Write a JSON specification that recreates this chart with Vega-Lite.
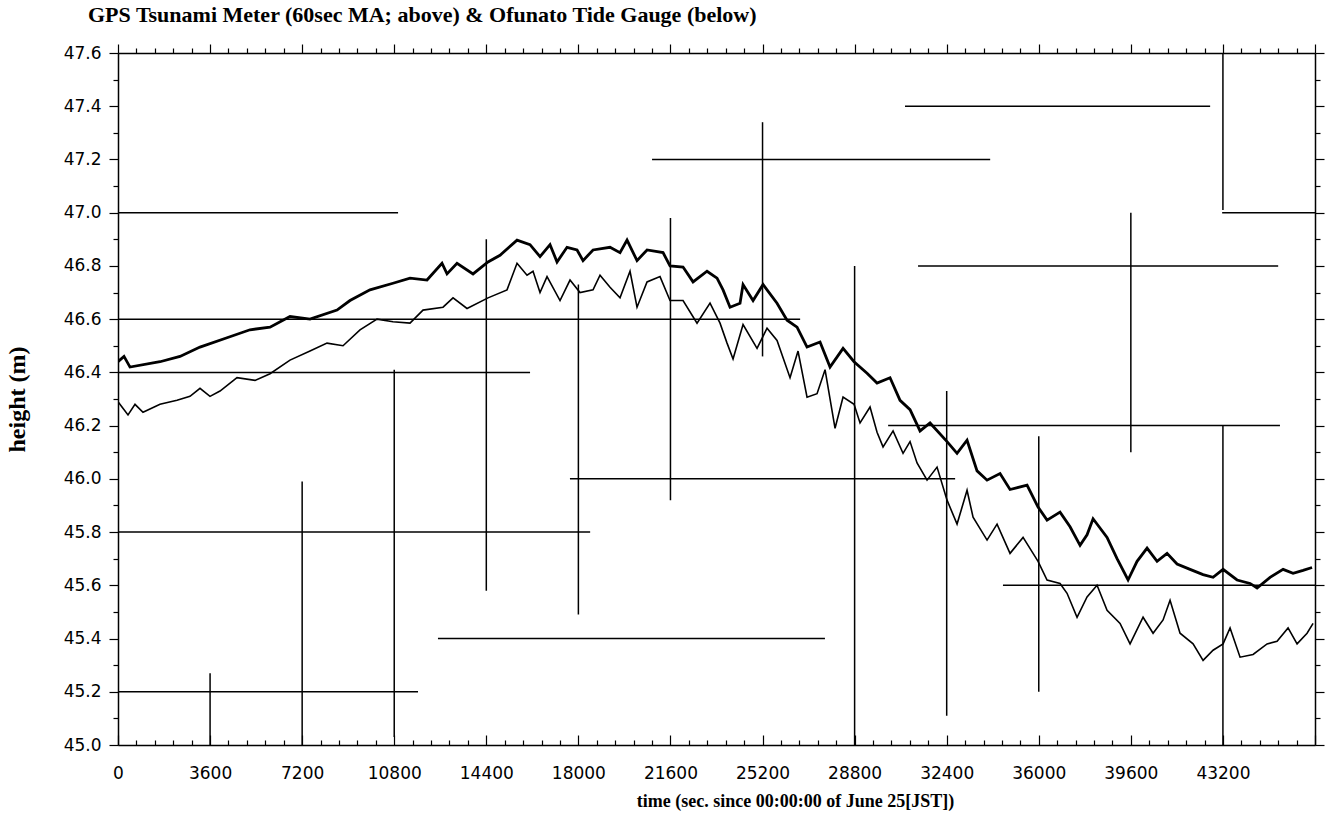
{
  "$schema": "https://vega.github.io/schema/vega-lite/v6.json",
  "width": 1197,
  "height": 692,
  "autosize": {"type": "none"},
  "padding": {"left": 118, "top": 53, "right": 12, "bottom": 84},
  "background": "white",
  "title": {"text": "GPS Tsunami Meter (60sec MA; above) & Ofunato Tide Gauge (below)", "anchor": "start", "frame": "group", "dx": -30, "offset": 16, "font": "Liberation Serif", "fontSize": 22, "fontWeight": "bold", "color": "black"},
  "config": {
    "view": {"stroke": null},
    "axis": {"domainColor": "black", "tickColor": "black", "labelColor": "black", "titleColor": "black", "grid": false, "domainWidth": 1.5, "tickWidth": 1.2, "labelFont": "DejaVu Sans", "labelFontSize": 17, "titleFont": "Liberation Serif", "titleFontWeight": "bold", "titleFontSize": 18, "labelOverlap": false, "labelFlush": false}
  },
  "datasets": {
    "gps": [
      {"t":0,"h":46.44},{"t":235,"h":46.46},{"t":469,"h":46.42},{"t":1642,"h":46.44},{"t":2424,"h":46.46},{"t":3206,"h":46.495},{"t":4262,"h":46.53},{"t":5161,"h":46.56},{"t":5944,"h":46.57},{"t":6725,"h":46.61},{"t":7507,"h":46.6},{"t":8563,"h":46.634},{"t":9071,"h":46.67},{"t":9853,"h":46.71},{"t":10752,"h":46.735},{"t":11417,"h":46.754},{"t":12082,"h":46.747},{"t":12668,"h":46.81},{"t":12864,"h":46.77},{"t":13255,"h":46.81},{"t":13881,"h":46.77},{"t":14467,"h":46.815},{"t":14936,"h":46.84},{"t":15601,"h":46.897},{"t":16109,"h":46.88},{"t":16500,"h":46.835},{"t":16891,"h":46.88},{"t":17165,"h":46.815},{"t":17556,"h":46.87},{"t":17947,"h":46.86},{"t":18182,"h":46.82},{"t":18573,"h":46.86},{"t":19237,"h":46.87},{"t":19628,"h":46.85},{"t":19902,"h":46.897},{"t":20293,"h":46.82},{"t":20684,"h":46.86},{"t":21310,"h":46.85},{"t":21583,"h":46.8},{"t":22092,"h":46.796},{"t":22483,"h":46.74},{"t":23030,"h":46.78},{"t":23421,"h":46.754},{"t":23656,"h":46.71},{"t":23929,"h":46.645},{"t":24320,"h":46.66},{"t":24438,"h":46.73},{"t":24829,"h":46.67},{"t":25220,"h":46.73},{"t":25767,"h":46.66},{"t":26158,"h":46.596},{"t":26549,"h":46.57},{"t":26940,"h":46.495},{"t":27448,"h":46.514},{"t":27839,"h":46.42},{"t":28348,"h":46.49},{"t":28778,"h":46.44},{"t":29286,"h":46.397},{"t":29677,"h":46.36},{"t":30185,"h":46.38},{"t":30576,"h":46.295},{"t":30967,"h":46.26},{"t":31358,"h":46.18},{"t":31749,"h":46.21},{"t":32414,"h":46.14},{"t":32805,"h":46.096},{"t":33196,"h":46.145},{"t":33587,"h":46.03},{"t":33978,"h":45.995},{"t":34486,"h":46.02},{"t":34877,"h":45.96},{"t":35542,"h":45.976},{"t":35972,"h":45.894},{"t":36324,"h":45.845},{"t":36832,"h":45.875},{"t":37223,"h":45.82},{"t":37614,"h":45.75},{"t":37888,"h":45.79},{"t":38123,"h":45.85},{"t":38670,"h":45.78},{"t":39061,"h":45.7},{"t":39491,"h":45.62},{"t":39843,"h":45.69},{"t":40234,"h":45.74},{"t":40625,"h":45.69},{"t":41016,"h":45.72},{"t":41407,"h":45.68},{"t":41915,"h":45.66},{"t":42424,"h":45.64},{"t":42815,"h":45.63},{"t":43206,"h":45.66},{"t":43753,"h":45.62},{"t":44261,"h":45.607},{"t":44535,"h":45.59},{"t":45043,"h":45.63},{"t":45552,"h":45.66},{"t":45943,"h":45.645},{"t":46334,"h":45.656},{"t":46685,"h":45.667}
    ],
    "tide": [
      {"t":0,"h":46.29},{"t":156,"h":46.27},{"t":391,"h":46.24},{"t":665,"h":46.28},{"t":978,"h":46.25},{"t":1642,"h":46.28},{"t":2307,"h":46.295},{"t":2815,"h":46.31},{"t":3206,"h":46.34},{"t":3597,"h":46.31},{"t":3988,"h":46.33},{"t":4653,"h":46.38},{"t":5357,"h":46.37},{"t":5944,"h":46.395},{"t":6725,"h":46.446},{"t":7507,"h":46.48},{"t":8172,"h":46.51},{"t":8798,"h":46.5},{"t":9462,"h":46.56},{"t":10127,"h":46.6},{"t":10752,"h":46.59},{"t":11417,"h":46.585},{"t":11925,"h":46.634},{"t":12708,"h":46.645},{"t":13099,"h":46.68},{"t":13646,"h":46.64},{"t":14467,"h":46.68},{"t":15210,"h":46.71},{"t":15601,"h":46.81},{"t":15992,"h":46.765},{"t":16227,"h":46.78},{"t":16500,"h":46.7},{"t":16774,"h":46.76},{"t":17282,"h":46.67},{"t":17673,"h":46.747},{"t":18064,"h":46.7},{"t":18573,"h":46.71},{"t":18846,"h":46.765},{"t":19237,"h":46.72},{"t":19628,"h":46.68},{"t":20019,"h":46.78},{"t":20293,"h":46.645},{"t":20684,"h":46.74},{"t":21192,"h":46.76},{"t":21583,"h":46.67},{"t":22092,"h":46.67},{"t":22639,"h":46.585},{"t":23147,"h":46.66},{"t":23538,"h":46.585},{"t":23812,"h":46.51},{"t":24047,"h":46.45},{"t":24438,"h":46.58},{"t":24985,"h":46.49},{"t":25376,"h":46.566},{"t":25767,"h":46.52},{"t":26275,"h":46.38},{"t":26588,"h":46.48},{"t":26940,"h":46.307},{"t":27331,"h":46.32},{"t":27644,"h":46.41},{"t":28035,"h":46.19},{"t":28348,"h":46.307},{"t":28778,"h":46.28},{"t":29012,"h":46.21},{"t":29403,"h":46.27},{"t":29677,"h":46.175},{"t":29912,"h":46.12},{"t":30303,"h":46.18},{"t":30694,"h":46.096},{"t":30967,"h":46.14},{"t":31241,"h":46.06},{"t":31632,"h":45.995},{"t":32023,"h":46.044},{"t":32414,"h":45.92},{"t":32805,"h":45.83},{"t":33196,"h":45.957},{"t":33431,"h":45.856},{"t":33978,"h":45.77},{"t":34369,"h":45.83},{"t":34877,"h":45.72},{"t":35386,"h":45.78},{"t":35777,"h":45.72},{"t":35972,"h":45.69},{"t":36324,"h":45.62},{"t":36832,"h":45.607},{"t":37106,"h":45.57},{"t":37497,"h":45.48},{"t":37888,"h":45.556},{"t":38279,"h":45.6},{"t":38670,"h":45.506},{"t":39178,"h":45.457},{"t":39569,"h":45.38},{"t":40078,"h":45.48},{"t":40469,"h":45.42},{"t":40860,"h":45.47},{"t":41133,"h":45.544},{"t":41524,"h":45.42},{"t":42033,"h":45.38},{"t":42424,"h":45.318},{"t":42815,"h":45.356},{"t":43206,"h":45.38},{"t":43479,"h":45.44},{"t":43870,"h":45.33},{"t":44379,"h":45.34},{"t":44926,"h":45.38},{"t":45317,"h":45.39},{"t":45747,"h":45.44},{"t":46099,"h":45.38},{"t":46490,"h":45.42},{"t":46725,"h":45.457}
    ],
    "grid": [
      {"x":30770,"x2":42700,"y":47.4,"y2":47.4},
      {"x":20880,"x2":34100,"y":47.2,"y2":47.2},
      {"x":0,"x2":10950,"y":47.0,"y2":47.0},
      {"x":43170,"x2":46800,"y":47.0,"y2":47.0},
      {"x":31280,"x2":45360,"y":46.8,"y2":46.8},
      {"x":0,"x2":26670,"y":46.6,"y2":46.6},
      {"x":0,"x2":16110,"y":46.4,"y2":46.4},
      {"x":30110,"x2":45430,"y":46.2,"y2":46.2},
      {"x":17670,"x2":32730,"y":46.0,"y2":46.0},
      {"x":0,"x2":18460,"y":45.8,"y2":45.8},
      {"x":34600,"x2":46800,"y":45.6,"y2":45.6},
      {"x":12510,"x2":27640,"y":45.4,"y2":45.4},
      {"x":0,"x2":11730,"y":45.2,"y2":45.2},
      {"x":3600,"x2":3600,"y":45.0,"y2":45.27},
      {"x":7200,"x2":7200,"y":45.0,"y2":45.99},
      {"x":10800,"x2":10800,"y":45.03,"y2":46.41},
      {"x":14400,"x2":14400,"y":45.58,"y2":46.9},
      {"x":18000,"x2":18000,"y":45.49,"y2":46.73},
      {"x":21600,"x2":21600,"y":45.92,"y2":46.98},
      {"x":25200,"x2":25200,"y":46.46,"y2":47.34},
      {"x":28800,"x2":28800,"y":45.0,"y2":46.8},
      {"x":32400,"x2":32400,"y":45.11,"y2":46.33},
      {"x":36000,"x2":36000,"y":45.2,"y2":46.16},
      {"x":39600,"x2":39600,"y":46.1,"y2":47.0},
      {"x":43200,"x2":43200,"y":47.01,"y2":47.6},
      {"x":43200,"x2":43200,"y":45.0,"y2":46.2}
    ]
  },
  "layer": [
    {
      "data": {"name": "grid"},
      "mark": {"type": "rule", "color": "black", "strokeWidth": 1.5},
      "encoding": {
        "x": {"field": "x", "type": "quantitative", "scale": {"domain": [0, 46800], "nice": false, "zero": false},
          "axis": {"orient": "top", "title": null, "labels": false, "domain": true,
            "values": [0,720,1440,2160,2880,3600,4320,5040,5760,6480,7200,7920,8640,9360,10080,10800,11520,12240,12960,13680,14400,15120,15840,16560,17280,18000,18720,19440,20160,20880,21600,22320,23040,23760,24480,25200,25920,26640,27360,28080,28800,29520,30240,30960,31680,32400,33120,33840,34560,35280,36000,36720,37440,38160,38880,39600,40320,41040,41760,42480,43200,43920,44640,45360,46080,46800],
            "tickSize": {"condition": {"test": "datum.value % 3600 === 0", "value": 9}, "value": 5}}},
        "x2": {"field": "x2"},
        "y": {"field": "y", "type": "quantitative", "scale": {"domain": [45.0, 47.6], "nice": false, "zero": false},
          "axis": {"orient": "right", "title": null, "labels": false, "domain": true,
            "values": [45.0,45.1,45.2,45.3,45.4,45.5,45.6,45.7,45.8,45.9,46.0,46.1,46.2,46.3,46.4,46.5,46.6,46.7,46.8,46.9,47.0,47.1,47.2,47.3,47.4,47.5,47.6],
            "tickSize": {"condition": {"test": "round(datum.value*10) % 2 === 0", "value": 9}, "value": 5}}},
        "y2": {"field": "y2"}
      }
    },
    {
      "data": {"name": "gps"},
      "mark": {"type": "line", "color": "black", "strokeWidth": 2.8, "clip": true},
      "encoding": {
        "x": {"field": "t", "type": "quantitative", "scale": {"domain": [0, 46800], "nice": false, "zero": false},
          "axis": {"orient": "bottom", "title": "time (sec. since 00:00:00 of June 25[JST])", "titleX": 677, "titlePadding": 6,
            "values": [0,720,1440,2160,2880,3600,4320,5040,5760,6480,7200,7920,8640,9360,10080,10800,11520,12240,12960,13680,14400,15120,15840,16560,17280,18000,18720,19440,20160,20880,21600,22320,23040,23760,24480,25200,25920,26640,27360,28080,28800,29520,30240,30960,31680,32400,33120,33840,34560,35280,36000,36720,37440,38160,38880,39600,40320,41040,41760,42480,43200,43920,44640,45360,46080,46800],
            "format": "d",
            "labelExpr": "datum.value % 3600 === 0 && datum.value < 46800 ? datum.label : ''",
            "tickSize": {"condition": {"test": "datum.value % 3600 === 0", "value": -10}, "value": -5},
            "labelPadding": 30}},
        "y": {"field": "h", "type": "quantitative", "scale": {"domain": [45.0, 47.6], "nice": false, "zero": false},
          "axis": {"orient": "left", "title": "height (m)", "titlePadding": 34, "titleFontSize": 24,
            "values": [45.0,45.1,45.2,45.3,45.4,45.5,45.6,45.7,45.8,45.9,46.0,46.1,46.2,46.3,46.4,46.5,46.6,46.7,46.8,46.9,47.0,47.1,47.2,47.3,47.4,47.5,47.6],
            "labelExpr": "round(datum.value*10) % 2 === 0 ? format(datum.value, '.1f') : ''",
            "tickSize": {"condition": {"test": "round(datum.value*10) % 2 === 0", "value": 9}, "value": 5},
            "labelPadding": 8}}
      }
    },
    {
      "data": {"name": "tide"},
      "mark": {"type": "line", "color": "black", "strokeWidth": 1.6, "clip": true},
      "encoding": {
        "x": {"field": "t", "type": "quantitative", "axis": null},
        "y": {"field": "h", "type": "quantitative", "axis": null}
      }
    }
  ],
  "resolve": {"axis": {"x": "independent", "y": "independent"}}
}
